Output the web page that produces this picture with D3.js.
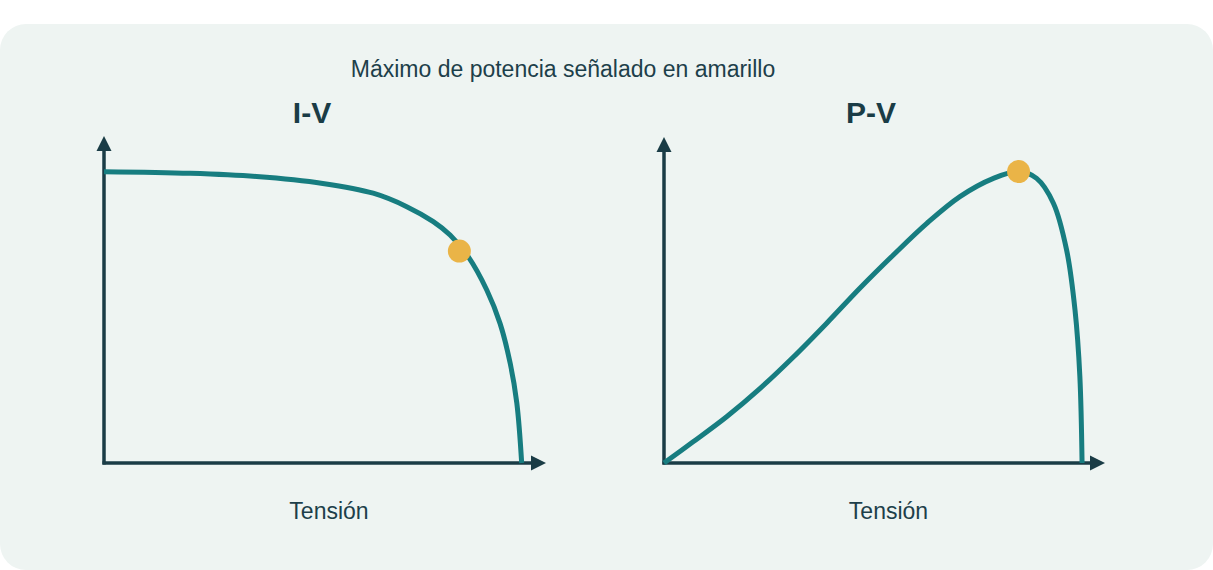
<!DOCTYPE html>
<html><head><meta charset="utf-8">
<script src="https://cdn.jsdelivr.net/npm/d3@7"></script>
<style>
html,body{margin:0;padding:0;background:#ffffff;}
svg{display:block;}
text{font-family:"Liberation Sans",Arial,Helvetica,sans-serif;}
</style></head>
<body>
<svg id="chart" width="1213" height="570"></svg>
<script>
// Normalised units (0-100)
const ivVoltage = [0, 19.5, 34.5, 49.5, 60.9, 68.5, 74.5, 78.3, 82.4, 86.6, 89.6, 91.9, 93.4, 94.5];
const ivCurrent = [89.1, 88.6, 87.6, 85.5, 82.5, 78.4, 73.8, 69.7, 63.1, 52.9, 42.7, 30.5, 18.3, 0];
const pvVoltage = [0, 6.6, 14.2, 21.8, 29.4, 36.9, 44.4, 52.0, 59.6, 67.1, 74.7, 80.4, 84.5, 88.3, 91.3, 93.2, 94.3, 94.8];
const pvPower   = [0, 6.5, 14.2, 22.9, 32.6, 42.9, 53.6, 63.8, 73.5, 81.7, 87.3, 89.4, 87.3, 79.7, 65.3, 46.9, 26.5, 0];
const ivMax = {v: 80.4, i: 64.8};
const pvMax = {v: 80.4, p: 89.4};
const titles = ["I-V", "P-V"];
const subtitle = "Máximo de potencia señalado en amarillo";
const xLabel = "Tensión";

const svg = d3.select("#chart");
const AXIS = "#1a3c46", CURVE = "#177d80", DOT = "#eab447", TXT = "#1d3f4a";

svg.append("rect").attr("x",0).attr("y",24).attr("width",1213).attr("height",546)
  .attr("rx",26).attr("ry",26).attr("fill","#eef4f2");

svg.append("text").attr("x",563).attr("y",77).attr("text-anchor","middle")
  .attr("font-size",23).attr("fill",TXT).text(subtitle);

const panels = [
  {x0:104, x1:546, y0:463, y1:136, vs:ivVoltage, ys:ivCurrent, dot:[ivMax.v, ivMax.i], title:titles[0], tx:312},
  {x0:664, x1:1105, y0:463, y1:137, vs:pvVoltage, ys:pvPower, dot:[pvMax.v, pvMax.p], title:titles[1], tx:871}
];

panels.forEach(p => {
  const x = d3.scaleLinear().domain([0,100]).range([p.x0, p.x1]);
  const y = d3.scaleLinear().domain([0,100]).range([p.y0, p.y1]);
  const g = svg.append("g");

  // axes (domain lines only, no ticks)
  const xa = g.append("g").attr("transform",`translate(0,${p.y0})`)
    .call(d3.axisBottom(x).tickValues([]).tickSizeOuter(0));
  xa.select(".domain").attr("stroke",AXIS).attr("stroke-width",3.5)
    .attr("d",`M${x(0)-1.5},0H${x(100)-12}`);
  const ya = g.append("g").attr("transform",`translate(${p.x0},0)`)
    .call(d3.axisLeft(y).tickValues([]).tickSizeOuter(0));
  ya.select(".domain").attr("stroke",AXIS).attr("stroke-width",3.5)
    .attr("d",`M0,${y(0)+1.5}V${y(100)+12}`);
  // arrow heads
  g.append("path").attr("fill",AXIS)
    .attr("d",`M${x(100)},${y(0)}L${x(100)-15},${y(0)-7.5}L${x(100)-15},${y(0)+7.5}Z`);
  g.append("path").attr("fill",AXIS)
    .attr("d",`M${x(0)},${y(100)}L${x(0)-7.5},${y(100)+15}L${x(0)+7.5},${y(100)+15}Z`);

  const pts = p.vs.map((v,i)=>[v,p.ys[i]]);
  const line = d3.line().x(d=>x(d[0])).y(d=>y(d[1])).curve(d3.curveCatmullRom.alpha(0.5));
  g.append("path").datum(pts).attr("d",line).attr("fill","none")
    .attr("stroke",CURVE).attr("stroke-width",5);

  g.append("circle").attr("cx",x(p.dot[0])).attr("cy",y(p.dot[1])).attr("r",11.5).attr("fill",DOT);

  g.append("text").attr("x",p.tx).attr("y",123).attr("text-anchor","middle")
    .attr("font-size",30).attr("font-weight","bold").attr("fill",AXIS).text(p.title);
  g.append("text").attr("x",(p.x0+p.x1)/2+4).attr("y",519).attr("text-anchor","middle")
    .attr("font-size",23).attr("fill",TXT).text(xLabel);
});
</script>
</body></html>
